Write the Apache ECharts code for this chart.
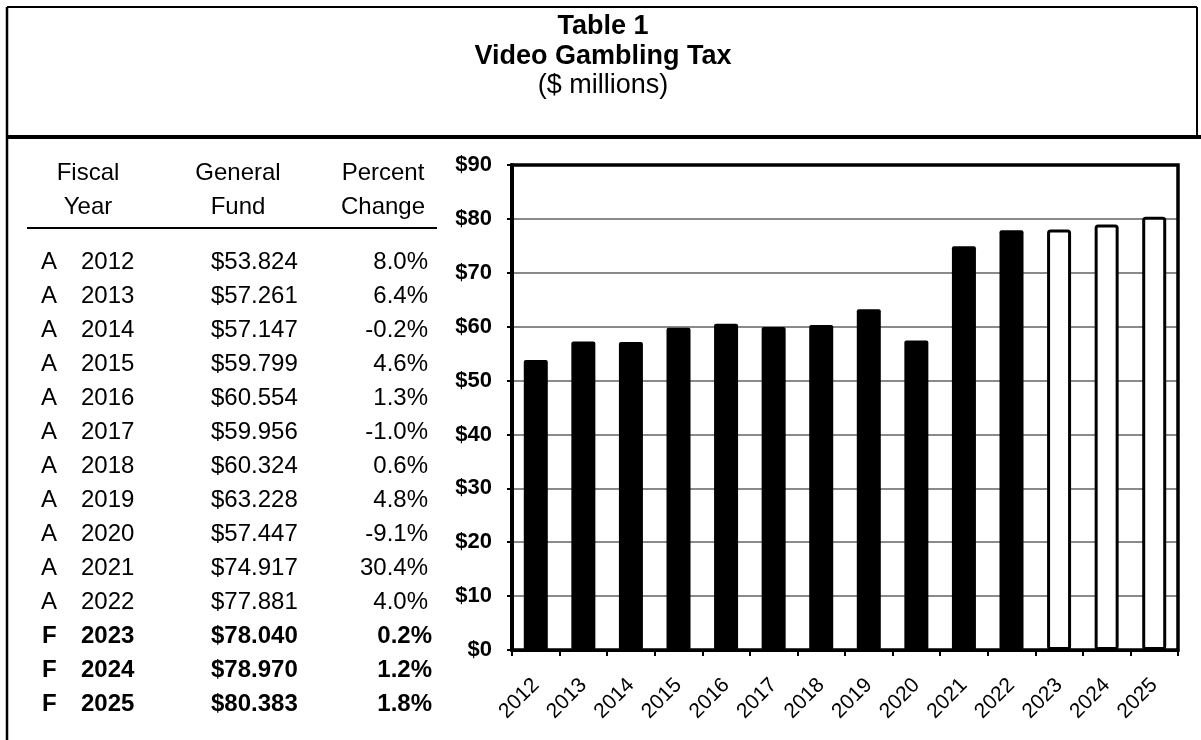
<!DOCTYPE html>
<html>
<head>
<meta charset="utf-8">
<title>Video Gambling Tax</title>
<script src="https://cdn.jsdelivr.net/npm/echarts@6/dist/echarts.min.js"></script>
<style>
  html, body { margin: 0; padding: 0; background: #fff; }
  #chart { width: 1201px; height: 740px; }
</style>
</head>
<body>
<div id="chart"></div>
<script>
// Fiscal years, actual (A) / forecast (F) flags, General Fund receipts ($ millions), yearly % change
const years = ['2012', '2013', '2014', '2015', '2016', '2017', '2018', '2019', '2020', '2021', '2022', '2023', '2024', '2025'];
const status = ['A', 'A', 'A', 'A', 'A', 'A', 'A', 'A', 'A', 'A', 'A', 'F', 'F', 'F'];
const generalFund = [53.824, 57.261, 57.147, 59.799, 60.554, 59.956, 60.324, 63.228, 57.447, 74.917, 77.881, 78.040, 78.970, 80.383];
const pctChange = [8.0, 6.4, -0.2, 4.6, 1.3, -1.0, 0.6, 4.8, -9.1, 30.4, 4.0, 0.2, 1.2, 1.8];
const titleLines = ['Table 1', 'Video Gambling Tax', '($ millions)'];
const headers = [['Fiscal', 'Year'], ['General', 'Fund'], ['Percent', 'Change']];

const FONT = '"Liberation Sans", Arial, sans-serif';
const chart = echarts.init(document.getElementById('chart'), null, { renderer: 'canvas' });

// plot area box (pixels)
const PLOT = { left: 512, top: 165, right: 1178, bottom: 650 };

function txt(text, x, y, size, bold, align) {
  return {
    type: 'text',
    silent: true,
    style: {
      text: text, x: x, y: y,
      fill: '#000',
      font: (bold ? 'bold ' : '') + size + 'px ' + FONT,
      align: align, verticalAlign: 'middle',
      textAlign: align, textVerticalAlign: 'middle'
    }
  };
}
function line(x1, y1, x2, y2, w) {
  return { type: 'line', silent: true, z: 50, shape: { x1: x1, y1: y1, x2: x2, y2: y2 }, style: { stroke: '#000', lineWidth: w } };
}

const graphics = [];
// frame around the heading and the left edge of the page
graphics.push(line(7, 7, 1197, 7, 2));
graphics.push(line(1197, 7, 1197, 137, 2));
graphics.push(line(7, 7, 7, 740, 2.5));
graphics.push(line(7, 137, 1201, 137, 4));

// heading
const titleY = [27, 57, 86];
titleLines.forEach(function (t, i) {
  graphics.push(txt(t, 603, titleY[i], 27, i < 2, 'center'));
});

// table column headers
const headX = [88, 238, 383];
headers.forEach(function (h, i) {
  graphics.push(txt(h[0], headX[i], 173, 24, false, 'center'));
  graphics.push(txt(h[1], headX[i], 207, 24, false, 'center'));
});
graphics.push(line(27, 228, 437, 228, 2));

// table rows
years.forEach(function (y, i) {
  const rowY = 262 + i * 34;
  const bold = status[i] === 'F';
  graphics.push(txt(status[i], bold ? 42 : 41, rowY, 24, bold, 'left'));
  graphics.push(txt(y, 81, rowY, 24, bold, 'left'));
  graphics.push(txt('$' + generalFund[i].toFixed(3), 211, rowY, 24, bold, 'left'));
  graphics.push(txt(pctChange[i].toFixed(1) + '%', bold ? 432 : 428, rowY, 24, bold, 'right'));
});

// black frame around the plot area, drawn over the grid lines
graphics.push({
  type: 'rect', silent: true, z: 60,
  shape: { x: PLOT.left, y: PLOT.top, width: PLOT.right - PLOT.left, height: PLOT.bottom - PLOT.top },
  style: { fill: null, stroke: '#000', lineWidth: 3.5 }
});

const barData = generalFund.map(function (v, i) {
  if (status[i] === 'F') {
    return { value: v, itemStyle: { color: '#fff', borderColor: '#000', borderWidth: 3 } };
  }
  return { value: v };
});

chart.setOption({
  animation: false,
  backgroundColor: '#fff',
  graphic: graphics,
  grid: {
    left: PLOT.left, right: 1201 - PLOT.right, top: PLOT.top, bottom: 740 - PLOT.bottom
  },
  xAxis: {
    type: 'category',
    data: years,
    axisLine: { lineStyle: { color: '#000', width: 3 } },
    axisTick: { show: true, length: 6, lineStyle: { color: '#000', width: 2 } },
    axisLabel: { rotate: 45, fontSize: 21, fontFamily: FONT, color: '#000', margin: 32 }
  },
  yAxis: {
    type: 'value',
    min: 0, max: 90, interval: 10,
    axisLine: { show: true, lineStyle: { color: '#000', width: 4 } },
    axisTick: { show: true, length: 5, lineStyle: { color: '#000', width: 2 } },
    axisLabel: {
      fontSize: 22, fontWeight: 'bold', fontFamily: FONT, color: '#000', margin: 20,
      formatter: function (v) { return '$' + v; }
    },
    splitLine: { lineStyle: { color: '#8a8a8a', width: 2 } }
  },
  series: [{
    type: 'bar',
    data: barData,
    barWidth: 24,
    itemStyle: { color: '#000', borderRadius: 2 }
  }]
});
</script>
</body>
</html>
